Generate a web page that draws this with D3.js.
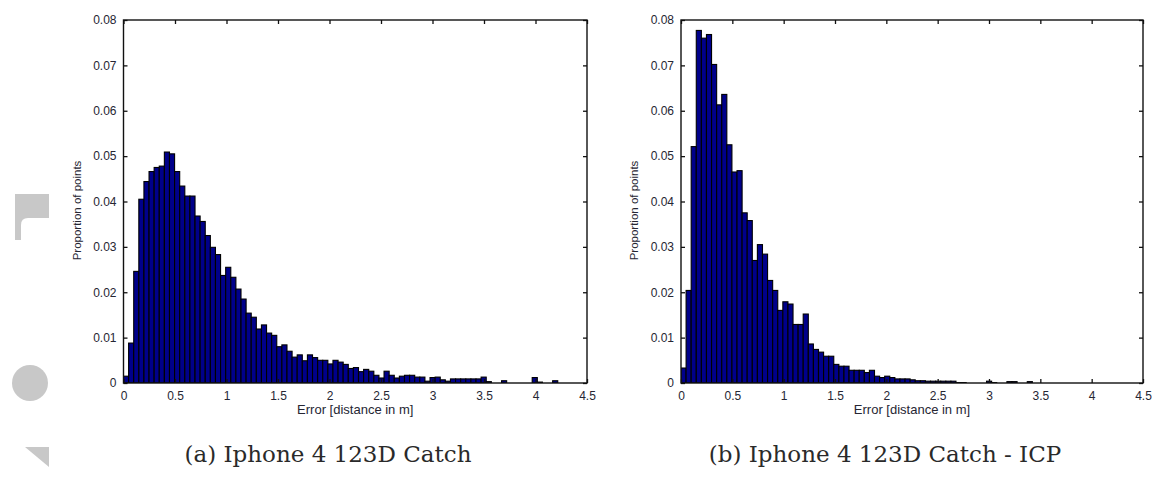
<!DOCTYPE html>
<html>
<head>
<meta charset="utf-8">
<script src="https://cdn.jsdelivr.net/npm/d3@7"></script>
<style>
  html, body { margin: 0; padding: 0; background: #fff; }
  svg { display: block; }
</style>
</head>
<body>
<svg id="fig" width="1159" height="477"></svg>
<script>
// Histogram bin width (metres) shared by both panels
const binWidth = 0.0496;

// (a) Iphone 4 123D Catch — proportion of points per error bin
const catchProportions = [
  0.0015,0.0088,0.0246,0.0405,0.0444,0.0466,0.0475,0.0478,0.0509,0.0505,
  0.0466,0.0434,0.0412,0.0412,0.0368,0.0356,0.0325,0.0299,0.0283,0.0237,
  0.0255,0.0233,0.0207,0.0185,0.0154,0.0145,0.0119,0.0128,0.0110,0.0105,
  0.0080,0.0084,0.0070,0.0057,0.0062,0.0049,0.0062,0.0056,0.0050,0.0050,
  0.0042,0.0050,0.0046,0.0041,0.0032,0.0034,0.0025,0.0030,0.0026,0.0017,
  0.0011,0.0026,0.0017,0.0011,0.0015,0.0017,0.0017,0.0013,0.0013,0.0004,
  0.0012,0.0013,0.0007,0.0004,0.0009,0.0009,0.0009,0.0009,0.0009,0.0009,
  0.0013,0.0003,0,0,0.0005,0,0,0,0,0,
  0.0012,0.0002,0,0,0.0005,0,0,0,0,0
];

// (b) Iphone 4 123D Catch - ICP — proportion of points per error bin
const icpProportions = [
  0.0033,0.0204,0.0521,0.0777,0.0760,0.0768,0.0702,0.0613,0.0636,0.0525,
  0.0465,0.0468,0.0375,0.0358,0.0270,0.0305,0.0284,0.0226,0.0204,0.0160,
  0.0179,0.0174,0.0129,0.0129,0.0152,0.0086,0.0074,0.0068,0.0059,0.0059,
  0.0041,0.0037,0.0037,0.0028,0.0028,0.0028,0.0023,0.0028,0.0015,0.0012,
  0.0015,0.0012,0.0009,0.0009,0.0009,0.0007,0.0005,0.0005,0.0004,0.0004,
  0.0004,0.0004,0.0004,0.0004,0.0001,0.0001,0,0,0,0,
  0.0004,0.0001,0,0,0.0003,0.0003,0,0,0.0003,0,
  0,0,0,0,0,0,0,0,0,0,
  0,0,0,0,0,0,0,0,0,0
];

const xTicks = [0, 0.5, 1, 1.5, 2, 2.5, 3, 3.5, 4, 4.5];
const yTicks = [0, 0.01, 0.02, 0.03, 0.04, 0.05, 0.06, 0.07, 0.08];

const xLabel = "Error [distance in m]";
const yLabel = "Proportion of points";
const captions = ["(a) Iphone 4 123D Catch", "(b) Iphone 4 123D Catch - ICP"];

const svg = d3.select("#fig");
const textColor = "#262633";
const tickFont = "Liberation Sans, Arial, sans-serif";

// page-side viewer glyphs in the left margin
const deco = svg.append("g").attr("fill", "#c8c8c8");
deco.append("path").attr("d",
  "M15,194 H49 V218 H28 Q21,218 21,225 V240 H15 Z");
deco.append("circle").attr("cx", 30).attr("cy", 383).attr("r", 18);
deco.append("path").attr("d", "M25,447 H49 V467 Z");

function drawPanel(values, box, caption, captionX, idx) {
  const x = d3.scaleLinear().domain([0, 4.5]).range([box.left, box.right]);
  const y = d3.scaleLinear().domain([0, 0.08]).range([box.bottom, box.top]);

  const g = svg.append("g");
  const clipId = "clip" + idx;
  g.append("clipPath").attr("id", clipId)
    .append("rect")
    .attr("x", box.left).attr("y", box.top)
    .attr("width", box.right - box.left).attr("height", box.bottom - box.top);

  // histogram bars
  g.append("g").attr("clip-path", `url(#${clipId})`)
    .selectAll("rect")
    .data(values)
    .join("rect")
    .attr("x", (d, i) => x(i * binWidth))
    .attr("width", (d, i) => x((i + 1) * binWidth) - x(i * binWidth))
    .attr("y", d => y(d))
    .attr("height", d => y(0) - y(d))
    .attr("fill", "#00008a")
    .attr("stroke", "#000")
    .attr("stroke-width", 1.1);

  const tickLen = 4;
  const fmtY = d => d === 0 ? "0" : d3.format(".2f")(d);
  const fmtX = d => String(d);

  // bottom axis (ticks inward), top mirror
  const bottom = g.append("g").attr("transform", `translate(0,${box.bottom})`)
    .call(d3.axisBottom(x).tickValues(xTicks).tickFormat(fmtX).tickSizeInner(-tickLen).tickSizeOuter(0).tickPadding(8));
  const top = g.append("g").attr("transform", `translate(0,${box.top})`)
    .call(d3.axisTop(x).tickValues(xTicks).tickFormat("").tickSizeInner(-tickLen).tickSizeOuter(0));
  const left = g.append("g").attr("transform", `translate(${box.left},0)`)
    .call(d3.axisLeft(y).tickValues(yTicks).tickFormat(fmtY).tickSizeInner(-tickLen).tickSizeOuter(0).tickPadding(7));
  const right = g.append("g").attr("transform", `translate(${box.right},0)`)
    .call(d3.axisRight(y).tickValues(yTicks).tickFormat("").tickSizeInner(-tickLen).tickSizeOuter(0));

  [bottom, top, left, right].forEach(a => {
    a.select(".domain").remove();
    a.selectAll(".tick line").attr("stroke", "#111").attr("stroke-width", 1.3);
    a.selectAll(".tick text")
      .attr("font-family", tickFont).attr("font-size", 12)
      .attr("fill", textColor);
  });

  // axes box
  g.append("rect")
    .attr("x", box.left).attr("y", box.top)
    .attr("width", box.right - box.left).attr("height", box.bottom - box.top)
    .attr("fill", "none").attr("stroke", "#111").attr("stroke-width", 1.4);

  g.append("text")
    .attr("x", (box.left + box.right) / 2).attr("y", box.bottom + 31)
    .attr("text-anchor", "middle")
    .attr("font-family", tickFont).attr("font-size", 13)
    .attr("fill", textColor)
    .text(xLabel);

  g.append("text")
    .attr("transform", `translate(${box.left - 43},${(box.top + box.bottom) / 2 + 9}) rotate(-90)`)
    .attr("text-anchor", "middle")
    .attr("font-family", tickFont).attr("font-size", 11.5)
    .attr("fill", textColor)
    .text(yLabel);

  svg.append("text")
    .attr("x", captionX).attr("y", 462)
    .attr("text-anchor", "middle")
    .attr("font-family", "DejaVu Serif, serif").attr("font-size", 23)
    .attr("fill", "#2a2a2a")
    .text(caption);
}

drawPanel(catchProportions, { left: 123.5, right: 587, top: 20, bottom: 383 }, captions[0], 328, 0);
drawPanel(icpProportions, { left: 681, right: 1143, top: 20, bottom: 383 }, captions[1], 885, 1);
</script>
</body>
</html>
